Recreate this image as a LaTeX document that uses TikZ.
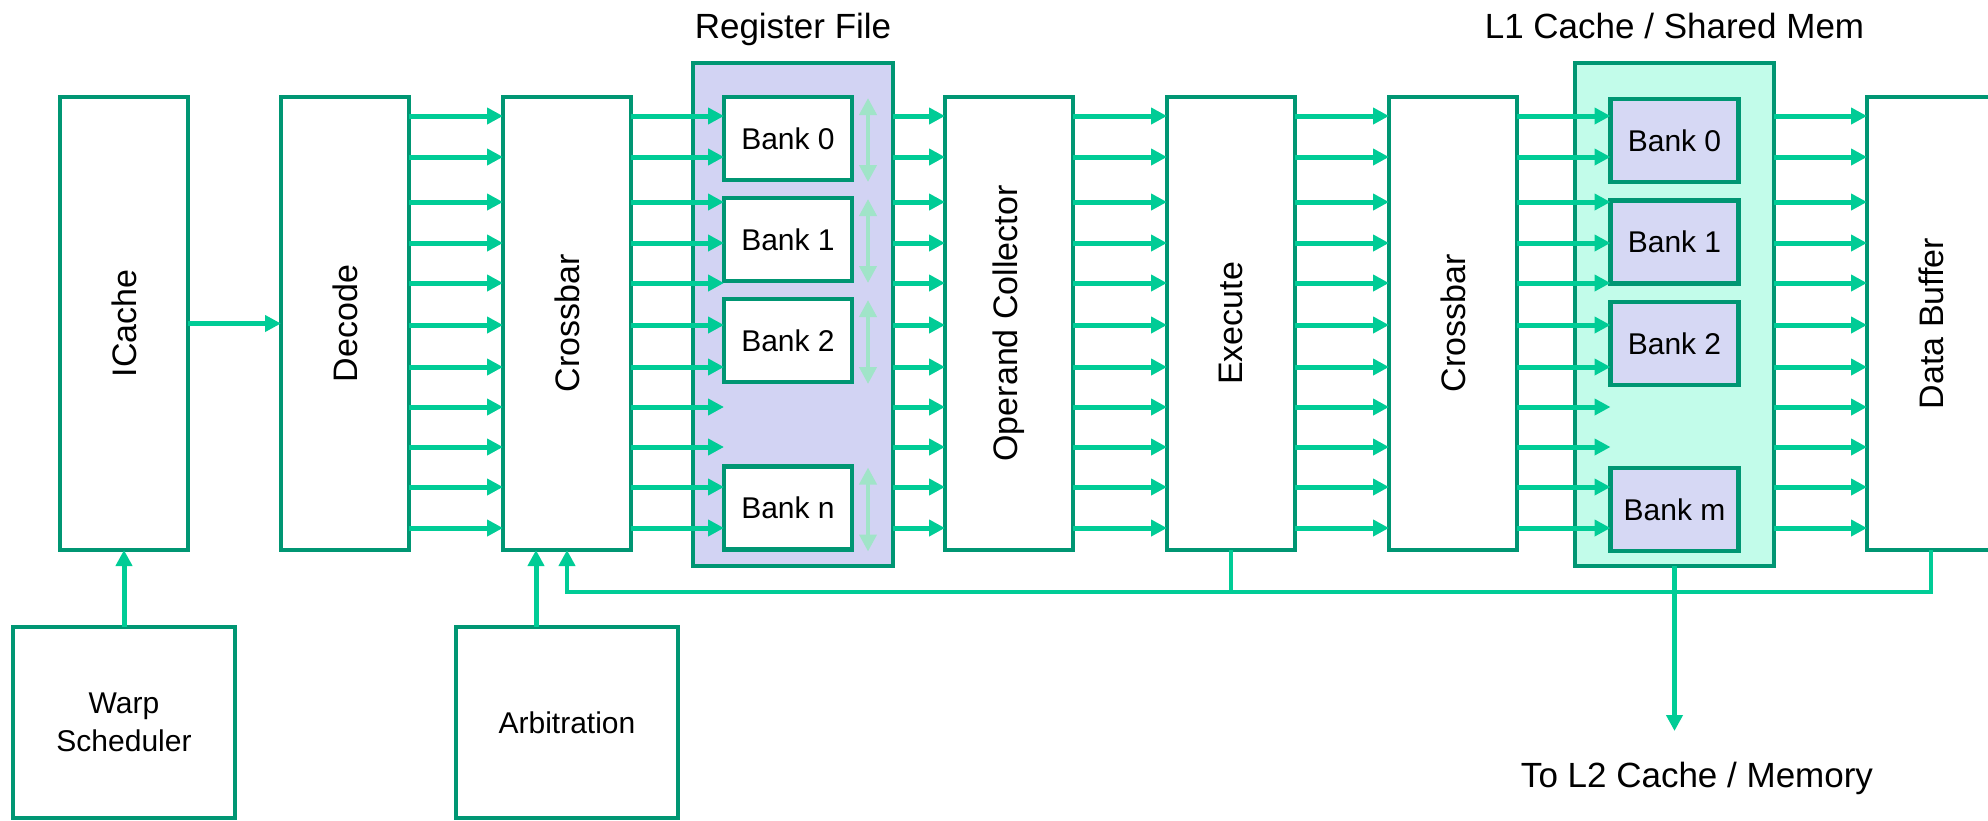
\documentclass[tikz,border=0pt]{standalone}
\usepackage{fontspec}
\setmainfont{Liberation Sans}
\usetikzlibrary{arrows.meta,calc}
\definecolor{bord}{RGB}{0,150,115}
\definecolor{arrc}{RGB}{0,204,150}
\definecolor{rffill}{RGB}{210,211,243}
\definecolor{lonefill}{RGB}{194,252,234}
\definecolor{lbankfill}{RGB}{214,216,244}
\definecolor{dblc}{RGB}{160,228,200}
\begin{document}
\begin{tikzpicture}[x=0.5pt,y=-0.5pt,
  blk/.style={draw=bord, line width=2.2pt, fill=white, inner sep=0pt, outer sep=0pt,
    minimum width=64pt, minimum height=226.5pt, font=\fontsize{17}{20}\selectfont},
  bank/.style={draw=bord, line width=2.2pt, fill=white, inner sep=0pt, outer sep=0pt,
    minimum width=64pt, minimum height=41.5pt, font=\fontsize{15}{18}\selectfont},
  lowbox/.style={draw=bord, line width=2.2pt, fill=white, inner sep=0pt, outer sep=0pt,
    minimum width=111pt, minimum height=95.5pt, align=center, font=\fontsize{15}{19}\selectfont},
  title/.style={font=\fontsize{17.5}{21}\selectfont, inner sep=0pt, anchor=base},
  arr/.style={draw=arrc, line width=2.5pt, -{Triangle[length=8pt,width=8pt]}, arrc},
  fb/.style={draw=arrc, line width=2.1pt},
  dbl/.style={draw=dblc, line width=2pt, {Triangle[length=8.5pt,width=8.5pt]}-{Triangle[length=8.5pt,width=8.5pt]}}
]
\useasboundingbox (0,0) rectangle (1988,820);

% main column boxes
\node[blk] (icache) at (124,323.5) {\rotatebox{90}{ICache}};
\node[blk] (decode) at (345,323.5) {\rotatebox{90}{Decode}};
\node[blk] (xbar1) at (567,323.5) {\rotatebox{90}{Crossbar}};
\node[blk] (opc) at (1009,323.5) {\rotatebox{90}{Operand Collector}};
\node[blk] (exec) at (1231,323.5) {\rotatebox{90}{Execute}};
\node[blk] (xbar2) at (1453,323.5) {\rotatebox{90}{Crossbar}};
\node[blk] (dbuf) at (1931,323.5) {\rotatebox{90}{Data Buffer}};

% register file
\node[blk, fill=rffill, minimum width=100pt, minimum height=251.5pt] (rf) at (793,314.5) {};
\node[title] (rft) at (rf.north |- 0,38) {Register File};
\node[bank] (rb0) at (788,138.5) {Bank 0};
\node[bank] (rb1) at (788,239.5) {Bank 1};
\node[bank] (rb2) at (788,340.5) {Bank 2};
\node[bank] (rbn) at (788,508) {Bank n};
\foreach \b in {rb0,rb1,rb2,rbn}
  \draw[dbl] ($(\b.north east)+(16,1)$) -- ($(\b.south east)+(16,2)$);

% L1 cache
\node[blk, fill=lonefill, minimum width=99.5pt, minimum height=251.5pt] (l1) at (1674.5,314.5) {};
\node[title] (l1t) at (l1.north |- 0,38) {L1 Cache / Shared Mem};
\node[bank, fill=lbankfill] (lb0) at (1674.5,140.5) {Bank 0};
\node[bank, fill=lbankfill] (lb1) at (1674.5,242) {Bank 1};
\node[bank, fill=lbankfill] (lb2) at (1674.5,343.5) {Bank 2};
\node[bank, fill=lbankfill] (lbm) at (1674.5,509.5) {Bank m};

% lower boxes
\node[lowbox] (warp) at (124,722.5) {Warp\\Scheduler};
\node[lowbox] (arb) at (567,722.5) {Arbitration};

% bus arrows
\foreach \y in {116,157,202,243,283,325,367,407,447,487,528} {
  \draw[arr] (decode.east |- 0,\y) -- (xbar1.west |- 0,\y);
  \draw[arr] (xbar1.east |- 0,\y) -- (rb0.west |- 0,\y);
  \draw[arr] (rf.east |- 0,\y) -- (opc.west |- 0,\y);
  \draw[arr] (opc.east |- 0,\y) -- (exec.west |- 0,\y);
  \draw[arr] (exec.east |- 0,\y) -- (xbar2.west |- 0,\y);
  \draw[arr] (xbar2.east |- 0,\y) -- (lb0.west |- 0,\y);
  \draw[arr] (l1.east |- 0,\y) -- (dbuf.west |- 0,\y);
}

% single arrows
\draw[arr] (icache.east) -- (decode.west);
\draw[arr] (warp.north) -- (icache.south);
\draw[arr] (arb.north -| 536,0) -- (xbar1.south -| 536,0);

% feedback bus
\draw[fb] (exec.south) -- (exec.south |- 0,592);
\draw[fb, -{Triangle[length=8pt,width=8pt]}, arrc] (dbuf.south) |- (xbar1.south |- 0,592) -- (xbar1.south);

% to L2
\node[title] (l2) at (1697,787) {To L2 Cache / Memory};
\coordinate (l2tip) at (l1.south |- 0,731);
\draw[fb, -{Triangle[length=8pt,width=8pt]}, arrc] (l1.south) -- (l2tip);
\end{tikzpicture}
\end{document}
